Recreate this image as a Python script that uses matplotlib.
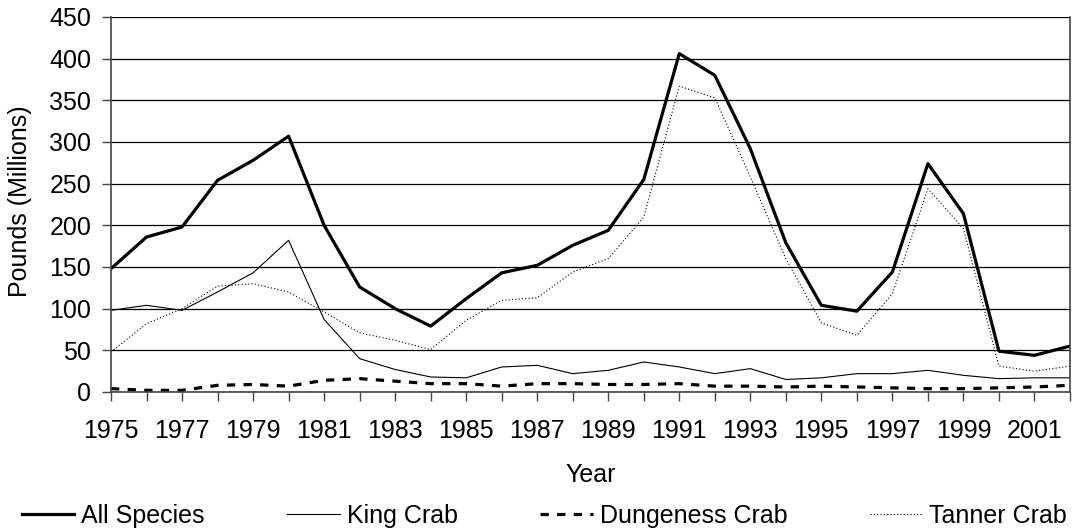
import matplotlib
matplotlib.use("Agg")
import matplotlib.pyplot as plt

plt.rcParams['font.family'] = ['Liberation Sans', 'DejaVu Sans']

years = list(range(1975, 2003))

all_species = [148, 186, 198, 254, 278, 307, 200, 126, 100, 79,
               112, 143, 152, 176, 194, 255, 406, 380, 292, 179,
               104, 97, 144, 274, 214, 49, 44, 55]
king_crab = [98, 104, 98, 120, 143, 182, 87, 40, 27, 18,
             17, 30, 32, 22, 26, 36, 30, 22, 28, 15,
             17, 22, 22, 26, 20, 16, 17, 17]
dungeness_crab = [4, 2, 2, 8, 9, 7, 14, 16, 13, 10,
                  10, 7, 10, 10, 9, 9, 10, 7, 7, 6,
                  7, 6, 5, 4, 4, 5, 6, 8]
tanner_crab = [48, 82, 100, 127, 130, 120, 96, 71, 62, 51,
               86, 110, 113, 144, 160, 210, 367, 353, 258, 160,
               83, 68, 118, 244, 196, 31, 25, 31]

y_ticks = list(range(0, 451, 50))
x_labels = [str(y) for y in years[::2]]

fig = plt.figure(figsize=(10.81, 5.31), dpi=100)
ax = fig.add_axes([0.1027, 0.2618, 0.8871, 0.7062])

ax.plot(years, all_species, color='black', lw=2.3, label='All Species')
ax.plot(years, king_crab, color='black', lw=0.8, label='King Crab')
ax.plot(years, dungeness_crab, color='black', lw=2.3, ls=(0, (2.6, 2.6)),
        label='Dungeness Crab')
ax.plot(years, tanner_crab, color='black', lw=0.8, ls=(0, (1, 2)),
        label='Tanner Crab')

ax.set_xlim(years[0], years[-1])
ax.set_ylim(0, 450)
ax.set_yticks(y_ticks)
ax.set_xticks(years, minor=True)
ax.set_xticks(years[::2])
ax.set_xticklabels(x_labels)
ax.grid(axis='y', color='black', lw=0.9)
ax.set_axisbelow(True)

for side in ['left', 'bottom', 'right']:
    ax.spines[side].set_color('#444444')
    ax.spines[side].set_linewidth(1.2)
ax.spines['top'].set_visible(False)

ax.tick_params(axis='both', which='both', labelsize=18, length=6.3, width=1,
               color='#444444')
ax.tick_params(axis='y', pad=8)
ax.tick_params(axis='x', pad=13)

ax.set_xlabel('Year', fontsize=18)
ax.xaxis.set_label_coords(0.5, -0.19)
ax.set_ylabel('Pounds (Millions)', fontsize=18)
ax.yaxis.set_label_coords(-0.082, 0.51)

fig.legend(loc='lower left', bbox_to_anchor=(0.02, 0.006, 0.967, 0.062),
           mode='expand', ncol=4, frameon=False, fontsize=18,
           handlelength=2.1, handletextpad=0.28, borderaxespad=0,
           borderpad=0)

fig.savefig('out.png', dpi=100)
